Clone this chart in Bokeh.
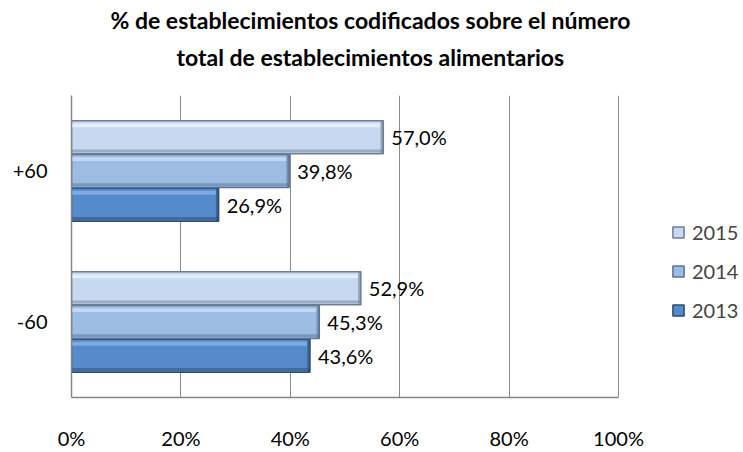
from bokeh.plotting import figure
from bokeh.models import (FactorRange, ColumnDataSource, Legend, LegendItem, Title,
                          PrintfTickFormatter, FixedTicker)
from bokeh.transform import dodge
from bokeh.core.properties import value
from bokeh.embed import file_html
from bokeh.resources import INLINE

categories = ["-60", "+60"]
years = ["2013", "2014", "2015"]
v2013 = [43.6, 26.9]
v2014 = [45.3, 39.8]
v2015 = [52.9, 57.0]
x_ticks = [0, 20, 40, 60, 80, 100]
title1 = "% de establecimientos codificados sobre el número"
title2 = "total de establecimientos alimentarios"

FONT = "Lato"
fills = {"2013": "#558ACB", "2014": "#9DBCE4", "2015": "#C6D9F1"}
edges = {"2013": "#2B4C75", "2014": "#5A7394", "2015": "#6F7E92"}
highs = {"2013": "#7FAAE0", "2014": "#C2D7F1", "2015": "#E4EEFA"}
offsets = {"2015": 0.223, "2014": 0.0, "2013": -0.223}
series = {"2013": v2013, "2014": v2014, "2015": v2015}

# frame spans x=71..743 px; 100% sits at x=618 px
x_max = 100 * (743 - 71) / (618 - 71)

p = figure(width=743, height=452, y_range=FactorRange(*categories, range_padding=0),
           x_range=(0, x_max), output_backend="svg", toolbar_location=None,
           min_border_left=71, min_border_right=0, min_border_top=92,
           min_border_bottom=43)
p.outline_line_color = None
p.background_fill_color = "white"
p.border_fill_color = "white"

bar_h = 0.218
renderers = {}
for y in ["2013", "2014", "2015"]:
    vals = series[y]
    src = ColumnDataSource(dict(cat=categories, v=vals, v_in=[v - 0.5 for v in vals],
                                lab=[f"{v:.1f}".replace(".", ",") + "%" for v in vals]))
    off = offsets[y]
    r = p.hbar(y=dodge("cat", off, range=p.y_range), right="v", left=0, height=bar_h,
               source=src, fill_color=fills[y], line_color=edges[y], line_width=1.5)
    renderers[y] = r
    # bevel highlight strip on top
    p.hbar(y=dodge("cat", off + bar_h / 2 - 0.03, range=p.y_range), right="v_in", left=0,
           height=0.025, source=src, fill_color=highs[y], line_color=None)
    # darker strip at bottom
    p.hbar(y=dodge("cat", off - bar_h / 2 + 0.018, range=p.y_range), right="v", left=0,
           height=0.02, source=src, fill_color=edges[y], fill_alpha=0.5, line_color=None)
    # darker bevel at right end
    p.hbar(y=dodge("cat", off, range=p.y_range), right="v", left="v_in",
           height=bar_h, source=src, fill_color=edges[y], fill_alpha=0.6, line_color=None)
    p.text(x="v", y=dodge("cat", off, range=p.y_range), text="lab", source=src,
           x_offset=8, text_baseline="middle", text_align="left",
           text_font=value(FONT), text_font_size="20px", text_color="#000000")

p.xaxis.ticker = FixedTicker(ticks=x_ticks)
p.xaxis.bounds = (0, 100)
p.xaxis.formatter = PrintfTickFormatter(format="%d%%")
p.xaxis.major_tick_in = 0
p.xaxis.major_tick_out = 0
p.xaxis.minor_tick_line_color = None
p.xaxis.axis_line_color = "#868686"
p.xaxis.axis_line_width = 1.5
p.xaxis.major_label_standoff = 28
p.xaxis.major_label_text_font = FONT
p.xaxis.major_label_text_font_size = "20px"
p.xaxis.major_label_text_color = "#000000"

p.yaxis.major_tick_in = 0
p.yaxis.major_tick_out = 0
p.yaxis.axis_line_color = "#868686"
p.yaxis.axis_line_width = 1.5
p.yaxis.major_label_standoff = 24
p.yaxis.major_label_text_font = FONT
p.yaxis.major_label_text_font_size = "20px"
p.yaxis.major_label_text_color = "#000000"

p.ygrid.grid_line_color = None
p.xgrid.grid_line_color = "#8C8C8C"
p.xgrid.grid_line_width = 1

legend = Legend(items=[LegendItem(label=y, renderers=[renderers[y]]) for y in ["2015", "2014", "2013"]],
                location=(600, 75), border_line_color=None, background_fill_alpha=0,
                glyph_width=14, glyph_height=14, label_height=20, spacing=15,
                label_text_font=FONT, label_text_font_size="20px", label_standoff=7,
                padding=0, margin=0)
p.add_layout(legend, "center")

t0 = Title(text=" ", text_font_size="1px", standoff=18)
t2 = Title(text=title2, align="left", offset=105, text_font=FONT, standoff=8,
           text_font_size="23px", text_font_style="bold", text_color="#000000")
t1 = Title(text=title1, align="left", offset=39, text_font=FONT, standoff=6,
           text_font_size="23px", text_font_style="bold", text_color="#000000")
p.add_layout(t0, "above")
p.add_layout(t2, "above")
p.add_layout(t1, "above")

open("out.html", "w").write(file_html(p, INLINE))
